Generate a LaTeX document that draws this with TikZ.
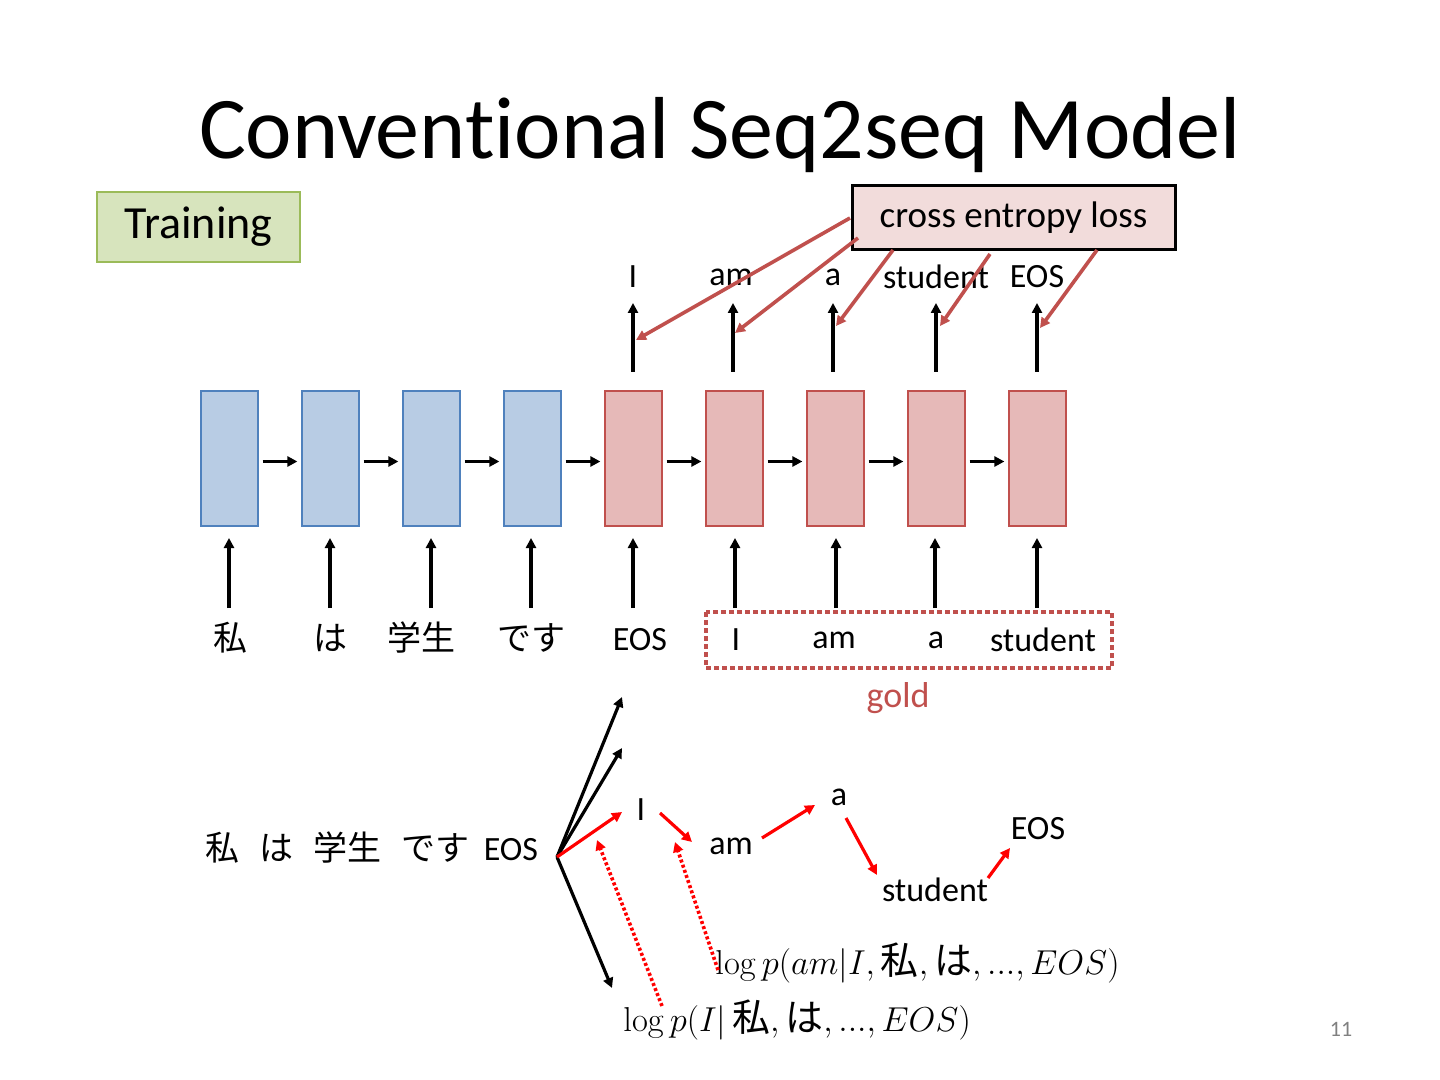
\documentclass[tikz,border=0pt]{standalone}
\usepackage[no-math]{fontspec}
\setmainfont[RawFeature=-liga]{Carlito}
\newfontfamily\cjk{Noto Sans CJK JP}
\usetikzlibrary{arrows.meta}
\definecolor{bfill}{HTML}{B8CCE4}\definecolor{bdraw}{HTML}{4F81BD}
\definecolor{rfill}{HTML}{E6B9B8}\definecolor{rdraw}{HTML}{C0504D}
\definecolor{gfill}{HTML}{D7E4BD}\definecolor{gdraw}{HTML}{9BBB59}
\definecolor{lfill}{HTML}{F2DCDB}
\begin{document}
\begin{tikzpicture}[x=0.5pt,y=-0.5pt,
 lab/.style={font=\fontsize{17}{20}\selectfont,inner sep=0pt},
 jp/.style={font=\fontsize{17}{20}\selectfont\cjk,inner sep=0pt},
 enc/.style={draw=bdraw,fill=bfill,minimum width=28.5pt,minimum height=67.5pt,inner sep=0pt,line width=0.6pt},
 dec/.style={draw=rdraw,fill=rfill,minimum width=28.5pt,minimum height=67.5pt,inner sep=0pt,line width=0.6pt},
 ar/.style={-{Triangle[length=5pt,width=5pt]},line width=1.6pt},
 rar/.style={-{Triangle[length=5pt,width=5pt]},line width=1.6pt,red},
 lar/.style={-{Triangle[length=5pt,width=5pt]},line width=1.8pt,rdraw},
 dar/.style={-{Triangle[length=5pt,width=5pt]},line width=1.8pt,red,dash pattern=on 1.5pt off 1.2pt}]
\useasboundingbox (0,0) rectangle (1440,1080);
\node[font=\fontsize{44}{52}\selectfont] (title) at (720,135) {Conventional Seq2seq Model};
\node[draw=gdraw,fill=gfill,line width=0.8pt,minimum width=101.5pt,minimum height=35pt,font=\fontsize{23}{26}\selectfont] (train) at (198.5,227) {Training};
\node[draw=black,fill=lfill,line width=1.5pt,minimum width=161.5pt,minimum height=32pt,font=\fontsize{18.5}{20}\selectfont] (loss) at (1013.5,218) {cross entropy loss};
% boxes
\foreach \n/\x in {e1/229.5,e2/330.5,e3/431.5,e4/532.5}{\node[enc] (\n) at (\x,458.5) {};}
\foreach \n/\x in {d1/633.5,d2/734.5,d3/835.5,d4/936.5,d5/1037.5}{\node[dec] (\n) at (\x,458.5) {};}
\foreach \a/\b in {e1/e2,e2/e3,e3/e4,e4/d1,d1/d2,d2/d3,d3/d4,d4/d5}{\draw[ar] ([xshift=2pt,yshift=-1.5pt]\a.east) -- ([xshift=-2pt,yshift=-1.5pt]\b.west);}
% inputs
\node[jp] (i1) at (230,638) {私};
\node[jp] (i2) at (330,638) {は};
\node[jp] (i3) at (421,638) {学生};
\node[jp] (i4) at (531,638) {です};
\node[lab] (i5) at (640,640) {EOS};
\node[lab] (i6) at (736,640) {I};
\node[lab] (i7) at (834,640) {am};
\node[lab] (i8) at (936,640) {a};
\node[lab] (i9) at (1043,640) {student};
\foreach \n/\x in {e1/229,e2/330,e3/431,e4/531,d1/633,d2/735,d3/836,d4/935,d5/1037}{
 \coordinate (s\n) at (\x,608);
 \draw[ar] (s\n) -- (\x,538);}
\draw[rdraw,line width=2pt,dash pattern=on 2.5pt off 1.5pt] (706,612) rectangle (1112,668);
\node[font=\fontsize{18}{20}\selectfont,text=rdraw] (gold) at (898,698) {gold};
% outputs
\node[lab] (o1) at (633,277) {I};
\node[lab] (o2) at (731,277) {am};
\node[lab] (o3) at (833,277) {a};
\node[lab] (o4) at (936,277) {student};
\node[lab] (o5) at (1037,277) {EOS};
\foreach \x in {633,733,833,936,1037}{\coordinate (t\x) at (\x,372); \draw[ar] (t\x) -- (\x,303);}
\coordinate (l1) at (850,218); \coordinate (l2) at (858,238); \coordinate (l3) at (893,250);
\coordinate (l4) at (990,254); \coordinate (l5) at (1097,250);
\draw[lar] (l1) -- (636,340);
\draw[lar] (l2) -- (735,333);
\draw[lar] (l3) -- (836,326);
\draw[lar] (l4) -- (940,326);
\draw[lar] (l5) -- (1040,328);
% bottom
\node[jp,anchor=west] (src) at (205,848) {私\hspace{10pt}は\hspace{10pt}学生\hspace{10pt}です};
\node[lab] (seos) at (511,850) {EOS};
\coordinate (o) at (557,857);
\coordinate (b1) at (622,697); \coordinate (b2) at (622,748); \coordinate (b3) at (612,988);
\draw[ar] (o) -- (b1); \draw[ar] (o) -- (b2); \draw[ar] (o) -- (b3);
\node[lab] (wI) at (641,810) {I};
\node[lab] (wam) at (731,846) {am};
\node[lab] (wa) at (839,797) {a};
\node[lab] (wst) at (935,890) {student};
\node[lab] (weos) at (1038,829) {EOS};
\draw[rar] (o) -- (622,812);
\draw[rar] (660,813) -- (692,842);
\draw[rar] (762,838) -- (815,805);
\draw[rar] (846,818) -- (877,875);
\draw[rar] (988,878) -- (1010,848);
\node[font=\fontsize{19}{22}\selectfont,anchor=west,inner sep=0pt] (f2) at (715,963) {$\log p(am|I,\mbox{\cjk 私},\mbox{\cjk は},...,EOS)$};
\node[font=\fontsize{19}{22}\selectfont,anchor=west,inner sep=0pt] (f1) at (623,1020) {$\log p(I|\,\mbox{\cjk 私},\mbox{\cjk は},...,EOS)$};
\draw[dar] (662,1006) -- (597,840);
\draw[dar] (718,970) -- (675,842);
\node[font=\fontsize{11}{12}\selectfont,text=gray] (pg) at (1341,1029) {11};
\end{tikzpicture}
\end{document}
